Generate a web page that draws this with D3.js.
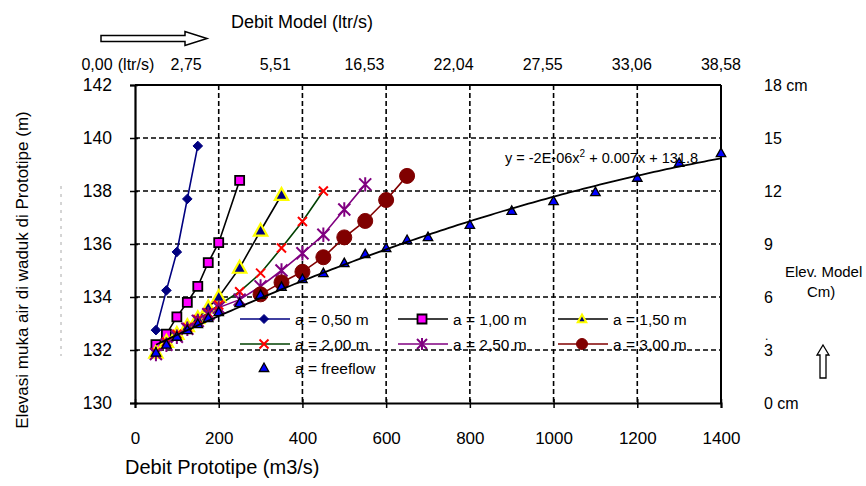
<!DOCTYPE html>
<html><head><meta charset="utf-8">
<script src="https://cdn.jsdelivr.net/npm/d3@7"></script>
<style>body{margin:0;background:#fff}svg text{font-family:"Liberation Sans",Arial,sans-serif;fill:#000}</style>
</head><body><svg id="c" width="866" height="486"></svg>
<script>
// ---- data ----
const xTicks = [0,200,400,600,800,1000,1200,1400];
const yTicks = [130,132,134,136,138,140,142];
const topLabels = ["0,00","2,75","5,51","16,53","22,04","27,55","33,06","38,58"];
const rightLabels = ["0 cm","3","6","9","12","15","18 cm"];

const x050 = [50,75,100,125,150];
const y050 = [132.75,134.25,135.7,137.7,139.7];
const x100 = [50,75,100,125,150,175,200,250];
const y100 = [132.2,132.6,133.25,133.8,134.4,135.3,136.05,138.4];
const x150 = [50,75,100,125,150,175,200,250,300,350];
const y150 = [131.9,132.3,132.6,132.9,133.2,133.6,134.0,135.1,136.5,137.85];
const x200 = [50,75,100,125,150,175,200,250,300,350,400,450];
const y200 = [131.9,132.3,132.6,132.85,133.15,133.4,133.7,134.2,134.9,135.85,136.85,138.0];
const x250 = [50,75,100,125,150,175,200,250,300,350,400,450,500,550];
const y250 = [131.85,132.2,132.5,132.8,133.1,133.35,133.6,133.9,134.4,135.0,135.65,136.35,137.3,138.25];
const x300 = [300,350,400,450,500,550,600,650];
const y300 = [134.1,134.55,134.95,135.5,136.25,136.87,137.66,138.57];
const xFree = [50,75,100,125,150,175,200,250,300,350,400,450,500,550,600,650,700,800,900,1000,1100,1200,1300,1400];
const yFree = [131.9,132.2,132.5,132.75,132.98,133.2,133.43,133.77,134.08,134.38,134.68,134.9,135.28,135.62,135.85,136.15,136.26,136.72,137.25,137.62,137.96,138.5,139.06,139.43];
const seriesNames = ["a = 0,50 m","a = 1,00 m","a = 1,50 m","a = 2,00 m","a = 2,50 m","a = 3,00 m","a = freeflow"];

// ---- layout ----
const L=135,R=721,T=85,B=403;
const svg=d3.select("#c");
const x=d3.scaleLinear().domain([0,1400]).range([L,R]);
const y=d3.scaleLinear().domain([130,142]).range([B,T]);

// marker paths
const mk={
 diamond:r=>`M0,${-r}L${r},0L0,${r}L${-r},0Z`,
 square:r=>`M${-r},${-r}H${r}V${r}H${-r}Z`,
 triangle:r=>`M0,${-r}L${r*0.95},${r*0.7}L${-r*0.95},${r*0.7}Z`,
 x:r=>`M${-r},${-r}L${r},${r}M${r},${-r}L${-r},${r}`,
 star:r=>`M${-r},${-r}L${r},${r}M${r},${-r}L${-r},${r}M0,${-r*1.2}V${r*1.2}`,
 circle:r=>`M${r},0A${r},${r} 0 1,1 ${-r},0A${r},${r} 0 1,1 ${r},0Z`
};
const styles=[
 {xs:x050,ys:y050,line:"#000080",m:"diamond",r:4.8,fill:"#000080",stroke:"#000080",sw:1},
 {xs:x100,ys:y100,line:"#000",m:"square",r:4.5,fill:"#ff00ff",stroke:"#000",sw:1.8},
 {xs:x150,ys:y150,line:"#000",m:"triangle",r:7,fill:"#000080",stroke:"#ffff00",sw:2.2},
 {xs:x200,ys:y200,line:"#004000",m:"x",r:4.5,fill:"none",stroke:"#ff0000",sw:2},
 {xs:x250,ys:y250,line:"#800080",m:"star",r:6,fill:"none",stroke:"#800080",sw:2},
 {xs:x300,ys:y300,line:"#800000",m:"circle",r:7.5,fill:"#800000",stroke:"#800000",sw:1},
 {xs:xFree,ys:yFree,line:null,m:"triangle",r:5,fill:"#0000ff",stroke:"#000",sw:1.3}
];
const legendSizes=[4.5,4.5,4.5,4.5,5,5.5,5];

// faint hidden label artifact
svg.append("line").attr("x1",61).attr("x2",61).attr("y1",186).attr("y2",356)
 .attr("stroke","#aaa").attr("stroke-width",1).attr("stroke-dasharray","3,5");

// legend
const lg=svg.append("g");
const colX=[240,398,558], rowY=[319,344,368];
seriesNames.forEach((n,i)=>{
 const s=styles[i], cx=colX[i%3], cy=rowY[Math.floor(i/3)];
 if(s.line) lg.append("line").attr("x1",cx).attr("x2",cx+50).attr("y1",cy).attr("y2",cy).attr("stroke",s.line).attr("stroke-width",1.6);
 lg.append("path").attr("d",mk[s.m](legendSizes[i])).attr("transform",`translate(${cx+24},${cy})`)
  .attr("fill",s.fill).attr("stroke",s.stroke).attr("stroke-width",Math.min(s.sw,2));
 lg.append("text").attr("x",cx+55).attr("y",cy).attr("dy","0.36em").attr("font-size",15.5).text(n);
});

// grid
const grid=svg.append("g").attr("stroke","#000").attr("stroke-width",1.6).attr("stroke-dasharray","5,3");
xTicks.filter(v=>v>0&&v<1400).forEach(v=>grid.append("line").attr("x1",x(v)).attr("x2",x(v)).attr("y1",T).attr("y2",B));
yTicks.filter(v=>v>130&&v<142).forEach(v=>grid.append("line").attr("x1",L).attr("x2",R).attr("y1",y(v)).attr("y2",y(v)));

// frame
svg.append("line").attr("x1",L).attr("x2",R).attr("y1",T).attr("y2",T).attr("stroke","#000").attr("stroke-width",2);
svg.append("line").attr("x1",R).attr("x2",R).attr("y1",T).attr("y2",B).attr("stroke","#000").attr("stroke-width",2);

// axes
const ax=svg.append("g").attr("transform",`translate(0,${B})`).call(d3.axisBottom(x).tickValues(xTicks).tickSize(5).tickPadding(24).tickFormat(d3.format("d")));
ax.select(".domain").attr("stroke-width",2);
ax.selectAll(".tick line").attr("y1",-4).attr("stroke-width",1.5);
ax.selectAll("text").attr("font-size",17);
const ay=svg.append("g").attr("transform",`translate(${L},0)`).call(d3.axisLeft(y).tickValues(yTicks).tickSize(5).tickPadding(18).tickFormat(d3.format("d")));
ay.select(".domain").attr("stroke-width",2.2);
ay.selectAll(".tick line").attr("x1",3).attr("x2",-5).attr("stroke-width",1.5);
ay.selectAll("text").attr("font-size",17.5);
[ax,ay].forEach(a=>a.selectAll("text").attr("font-family",'"Liberation Sans",Arial,sans-serif').attr("fill","#000"));

// series
const lineGen=d3.line().x(d=>x(d[0])).y(d=>y(d[1]));
styles.forEach(s=>{
 const pts=s.xs.map((v,i)=>[v,s.ys[i]]);
 if(s.line) svg.append("path").attr("d",lineGen(pts)).attr("fill","none").attr("stroke",s.line).attr("stroke-width",1.6);
});
styles.forEach(s=>{
 const pts=s.xs.map((v,i)=>[v,s.ys[i]]);
 svg.append("g").selectAll("path").data(pts).join("path").attr("d",mk[s.m](s.r))
  .attr("transform",d=>`translate(${x(d[0])},${y(d[1])})`)
  .attr("fill",s.fill).attr("stroke",s.stroke).attr("stroke-width",s.sw);
});

// polynomial trendline (least squares on freeflow)
(function(){
 const n=xFree.length; let S=[0,0,0,0,0],T2=[0,0,0];
 xFree.forEach((v,i)=>{for(let k=0;k<5;k++)S[k]+=Math.pow(v,k);for(let k=0;k<3;k++)T2[k]+=yFree[i]*Math.pow(v,k);});
 const M=[[S[0],S[1],S[2],T2[0]],[S[1],S[2],S[3],T2[1]],[S[2],S[3],S[4],T2[2]]];
 for(let i=0;i<3;i++){for(let j=i+1;j<3;j++){const f=M[j][i]/M[i][i];for(let k=i;k<4;k++)M[j][k]-=f*M[i][k];}}
 const c=[0,0,0];for(let i=2;i>=0;i--){let s=M[i][3];for(let k=i+1;k<3;k++)s-=M[i][k]*c[k];c[i]=s/M[i][i];}
 const xs=d3.range(xFree[0],xFree[n-1]+1,10);
 svg.append("path").attr("d",lineGen(xs.map(v=>[v,c[0]+c[1]*v+c[2]*v*v]))).attr("fill","none").attr("stroke","#000").attr("stroke-width",1.8);
})();
const eq=svg.append("text").attr("x",505).attr("y",163).attr("font-size",14.5);
eq.append("tspan").text("y = -2E-06x");
eq.append("tspan").attr("dy",-6).attr("font-size",10).text("2");
eq.append("tspan").attr("dy",6).text(" + 0.007x + 131.8");

// titles
svg.append("text").attr("x",125).attr("y",474).attr("font-size",20).text("Debit Prototipe (m3/s)");
svg.append("text").attr("transform","translate(28,270) rotate(-90)").attr("text-anchor","middle").attr("font-size",17).text("Elevasi muka air di waduk di Prototipe (m)");
svg.append("text").attr("x",302).attr("y",28).attr("text-anchor","middle").attr("font-size",18).text("Debit Model (ltr/s)");

// top labels
const tp=d3.scalePoint().domain(topLabels).range([97,721]);
topLabels.forEach(t=>svg.append("text").attr("x",tp(t)).attr("y",70).attr("text-anchor","middle").attr("font-size",16).text(t));
svg.append("text").attr("x",136).attr("y",70).attr("text-anchor","middle").attr("font-size",16).text("(ltr/s)");
// top arrow
svg.append("path").attr("d","M101,35.5H185V31.5L207,38.5L185,45.5V41.5H101Z").attr("fill","#fff").attr("stroke","#000").attr("stroke-width",1.5);

// right labels
rightLabels.forEach((t,i)=>svg.append("text").attr("x",764).attr("y",y(yTicks[i])).attr("dy","0.36em").attr("font-size",16).text(t));
svg.append("text").attr("x",785).attr("y",272).attr("dy","0.36em").attr("font-size",15).text("Elev. Model");
svg.append("text").attr("x",807).attr("y",292).attr("dy","0.36em").attr("font-size",15).text("Cm)");
svg.append("text").attr("x",765).attr("y",340).attr("font-size",12).text(".");
// up arrow
svg.append("path").attr("d","M823,345L829,355H826V378H820V355H817Z").attr("fill","#fff").attr("stroke","#000").attr("stroke-width",1.3);
</script></body></html>
